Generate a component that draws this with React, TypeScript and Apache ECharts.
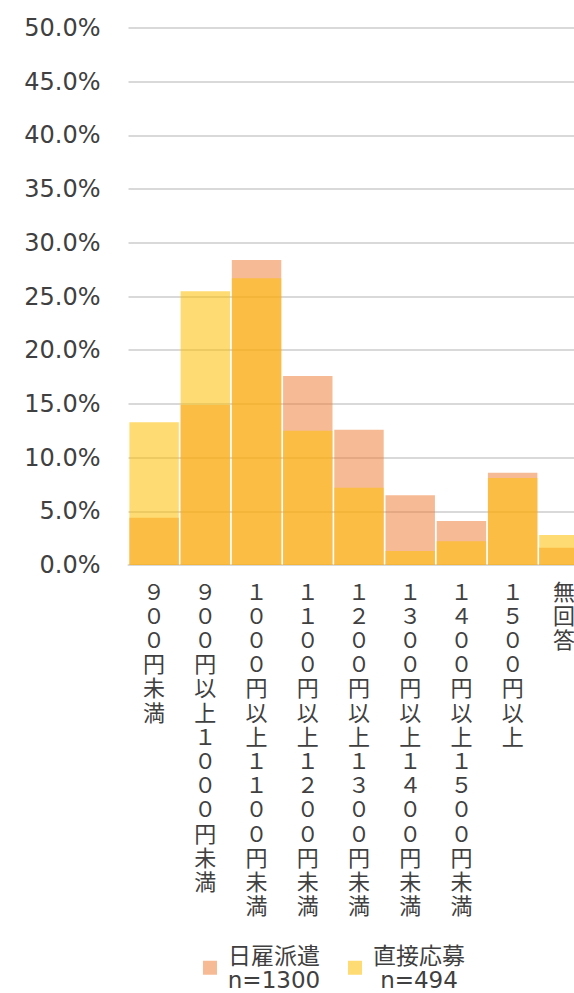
import React, { useEffect, useRef } from "react";
import * as echarts from "echarts";

const categories = [
  "９００円未満",
  "９００円以上１０００円未満",
  "１０００円以上１１００円未満",
  "１１００円以上１２００円未満",
  "１２００円以上１３００円未満",
  "１３００円以上１４００円未満",
  "１４００円以上１５００円未満",
  "１５００円以上",
  "無回答",
];

const hiyatoiValues = [4.4, 14.9, 28.4, 17.6, 12.6, 6.5, 4.1, 8.6, 1.6];
const chokusetsuValues = [13.3, 25.5, 26.7, 12.5, 7.2, 1.3, 2.2, 8.1, 2.8];

const seriesNames = ["日雇派遣", "直接応募"];
const seriesCounts = ["n=1300", "n=494"];

const yMin = 0;
const yMax = 50;
const yInterval = 5;

export default function App() {
  const ref = useRef<HTMLDivElement>(null);

  useEffect(() => {
    document.body.style.margin = "0";
    if (!ref.current) return;
    const chart = echarts.init(ref.current, undefined, { renderer: "svg" });
    const textColor = "#404040";
    const latin = "'DejaVu Sans', 'Noto Sans CJK JP', sans-serif";
    chart.setOption({
      animation: false,
      backgroundColor: "#ffffff",
      grid: {
        left: 128.5,
        width: 461,
        top: 28,
        bottom: 428,
        containLabel: false,
        outerBoundsMode: "none",
      },
      legend: {
        left: 203,
        top: 944,
        padding: 0,
        itemWidth: 14,
        itemHeight: 14,
        itemGap: 22,
        icon: "rect",
        data: seriesNames,
        formatter: (name: string) => {
          const i = seriesNames.indexOf(name);
          return `{a|${name}}\n{a|${seriesCounts[i]}}`;
        },
        textStyle: {
          color: textColor,
          fontFamily: latin,
          fontSize: 23,
          rich: {
            a: {
              width: 104,
              align: "center",
              fontSize: 23,
              lineHeight: 24.5,
              color: textColor,
              fontFamily: latin,
            },
          },
        },
      },
      xAxis: {
        type: "category",
        data: categories,
        axisLine: { show: true, lineStyle: { color: "#d9d9d9", width: 2 } },
        axisTick: { show: false },
        axisLabel: {
          interval: 0,
          margin: 15,
          color: textColor,
          fontSize: 22,
          lineHeight: 24.2,
          fontFamily: latin,
          formatter: (v: string) => Array.from(v).join("\n"),
        },
      },
      yAxis: {
        type: "value",
        min: yMin,
        max: yMax,
        interval: yInterval,
        axisLine: { show: false },
        axisTick: { show: false },
        splitLine: { lineStyle: { color: "#d9d9d9", width: 2 } },
        axisLabel: {
          margin: 28,
          color: textColor,
          fontSize: 24,
          fontFamily: latin,
          formatter: (v: number) => v.toFixed(1) + "%",
        },
      },
      series: [
        {
          name: seriesNames[0],
          type: "bar",
          data: hiyatoiValues,
          barGap: "-100%",
          barCategoryGap: "3.5%",
          itemStyle: { color: "rgba(237,125,49,0.52)" },
        },
        {
          name: seriesNames[1],
          type: "bar",
          data: chokusetsuValues,
          barGap: "-100%",
          barCategoryGap: "3.5%",
          itemStyle: { color: "rgba(255,192,0,0.55)" },
        },
      ],
    });
    return () => chart.dispose();
  }, []);

  return <div ref={ref} style={{ width: 574, height: 993 }} />;
}
